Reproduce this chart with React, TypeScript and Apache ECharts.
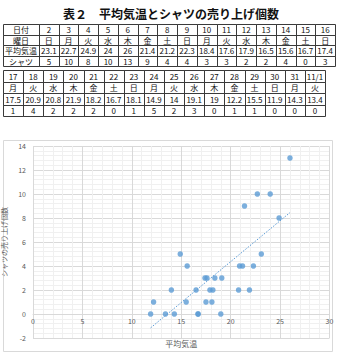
import React, { useEffect, useRef } from "react";
import * as echarts from "echarts";

const titleText = "表２　平均気温とシャツの売り上げ個数";
const rowHeaders = ["日付", "曜日", "平均気温", "シャツ"];

const dates1 = ["2", "3", "4", "5", "6", "7", "8", "9", "10", "11", "12", "13", "14", "15", "16"];
const days1 = ["日", "月", "火", "水", "木", "金", "土", "日", "月", "火", "水", "木", "金", "土", "日"];
const temps1 = [23.1, 22.7, 24.9, 24, 26, 21.4, 21.2, 22.3, 18.4, 17.6, 17.9, 16.5, 15.6, 16.7, 17.4];
const shirts1 = [5, 10, 8, 10, 13, 9, 4, 4, 3, 3, 2, 2, 4, 0, 3];

const dates2 = ["17", "18", "19", "20", "21", "22", "23", "24", "25", "26", "27", "28", "29", "30", "31", "11/1"];
const days2 = ["月", "火", "水", "木", "金", "土", "日", "月", "火", "水", "木", "金", "土", "日", "月", "火"];
const temps2 = [17.5, 20.9, 20.8, 21.9, 18.2, 16.7, 18.1, 14.9, 14, 19.1, 19, 12.2, 15.5, 11.9, 14.3, 13.4];
const shirts2 = [1, 4, 2, 2, 2, 0, 1, 5, 2, 3, 0, 1, 1, 0, 0, 0];

const xAxisName = "平均気温";
const yAxisName = "シャツの売り上げ個数";
const xMin = 0, xMax = 30, xStep = 5;
const yMin = -2, yMax = 14, yStep = 2;
const trendSlope = 0.6813;
const trendIntercept = -9.2626;
const trendLabel = "y = 0.6813x - 9.2626";

const FONT = "'Noto Sans CJK JP', 'Noto Sans', sans-serif";

const GRID_TOP = 146;
const GRID_BOTTOM = 19;
const CHART_H = 357;

function buildTable(x0: number, y0: number, colWidths: number[], rowH: number, rows: string[][]) {
  const els: any[] = [];
  let y = y0;
  rows.forEach((row) => {
    let x = x0;
    row.forEach((cell, ci) => {
      const w = colWidths[ci];
      els.push({
        type: "rect",
        shape: { x: Math.round(x) + 0.5, y: Math.round(y) + 0.5, width: Math.round(x + w) - Math.round(x), height: Math.round(y + rowH) - Math.round(y) },
        style: { fill: "transparent", stroke: "#3a3a3a", lineWidth: 1 },
        silent: true,
      });
      els.push({
        type: "text",
        x: x + w / 2,
        y: y + rowH / 2 + 0.5,
        style: { text: cell, font: `8px ${FONT}`, fill: "#111", align: "center", verticalAlign: "middle" },
        silent: true,
      });
      x += w;
    });
    y += rowH;
  });
  return els;
}

export default function App() {
  const ref = useRef<HTMLDivElement>(null);
  useEffect(() => {
    if (!ref.current) return;
    const chart = echarts.init(ref.current, null, { renderer: "svg" });

    const points = [
      ...temps1.map((t, i) => [t, shirts1[i]]),
      ...temps2.map((t, i) => [t, shirts2[i]]),
    ];
    const allT = [...temps1, ...temps2];
    const tLo = Math.min(...allT);
    const tHi = Math.max(...allT);
    const trend = [
      [tLo, trendSlope * tLo + trendIntercept],
      [tHi, trendSlope * tHi + trendIntercept],
    ];

    const w1 = [36, ...dates1.map(() => 296 / dates1.length)];
    const table1 = buildTable(3, 24, w1, 10.5, [
      [rowHeaders[0], ...dates1],
      [rowHeaders[1], ...days1],
      [rowHeaders[2], ...temps1.map(String)],
      [rowHeaders[3], ...shirts1.map(String)],
    ]);
    const w2 = dates2.map(() => 322 / dates2.length);
    const table2 = buildTable(3, 70, w2, 11.5, [
      dates2,
      days2,
      temps2.map(String),
      shirts2.map(String),
    ]);

    // place the x axis on y = 0 (as Excel does) by shifting it up from the grid bottom
    const plotH = CHART_H - GRID_TOP - GRID_BOTTOM;
    const zeroOffset = -((0 - yMin) / (yMax - yMin)) * plotH;

    const axisLabel = { color: "#595959", fontSize: 7, fontFamily: FONT };

    chart.setOption({
      animation: false,
      backgroundColor: "#fff",
      graphic: [
        {
          type: "rect",
          z: -10,
          shape: { x: 3.5, y: 140.5, width: 329, height: 211 },
          style: { fill: "#fff", stroke: "#d9d9d9", lineWidth: 1 },
          silent: true,
        },
        {
          type: "text",
          x: 171,
          y: 13,
          style: { text: titleText, font: `bold 12px ${FONT}`, fill: "#111", align: "center", verticalAlign: "middle" },
          silent: true,
        },
        ...table1,
        ...table2,
      ],
      grid: { left: 33, right: 12.5, top: GRID_TOP, bottom: GRID_BOTTOM, containLabel: false, outerBoundsMode: "none" },
      xAxis: {
        type: "value",
        min: xMin,
        max: xMax,
        interval: xStep,
        offset: zeroOffset,
        name: xAxisName,
        nameLocation: "middle",
        nameGap: 25,
        nameTextStyle: { color: "#595959", fontSize: 8, fontFamily: FONT },
        axisLine: { show: true, onZero: false, lineStyle: { color: "#d9d9d9", width: 1 } },
        axisTick: { show: false },
        axisLabel: { ...axisLabel, margin: 3 },
        splitLine: { show: true, lineStyle: { color: "#d9d9d9", width: 1 } },
        minorTick: { show: false, splitNumber: 5 },
        minorSplitLine: { show: true, lineStyle: { color: "#f0f0f0", width: 1 } },
      },
      yAxis: {
        type: "value",
        min: yMin,
        max: yMax,
        interval: yStep,
        name: yAxisName,
        nameLocation: "middle",
        nameRotate: 90,
        nameGap: 15,
        nameTextStyle: { color: "#595959", fontSize: 7, fontFamily: FONT },
        axisLine: { show: false, onZero: false },
        axisTick: { show: false },
        axisLabel: { ...axisLabel, margin: 7 },
        splitLine: { show: true, lineStyle: { color: "#d9d9d9", width: 1 } },
        minorTick: { show: false, splitNumber: 5 },
        minorSplitLine: { show: true, lineStyle: { color: "#f0f0f0", width: 1 } },
      },
      series: [
        {
          type: "line",
          data: trend,
          showSymbol: false,
          symbol: "none",
          silent: true,
          lineStyle: { color: "#5b9bd5", width: 1, type: [1.5, 1.5] },
          z: 2,
        },
        {
          type: "scatter",
          data: points,
          symbolSize: 5.5,
          itemStyle: { color: "#5b9bd5" },
          z: 3,
        },
        {
          type: "scatter",
          data: [trend[1]],
          symbolSize: 1,
          itemStyle: { opacity: 0 },
          silent: true,
          label: {
            show: true,
            formatter: trendLabel,
            position: [-6, 17],
            align: "left",
            verticalAlign: "middle",
            color: "#595959",
            fontSize: 6,
            fontFamily: FONT,
          },
          z: 4,
        },
      ],
    });
    return () => chart.dispose();
  }, []);
  return <div ref={ref} style={{ position: "fixed", left: 0, top: 0, width: 342, height: 357 }} />;
}
